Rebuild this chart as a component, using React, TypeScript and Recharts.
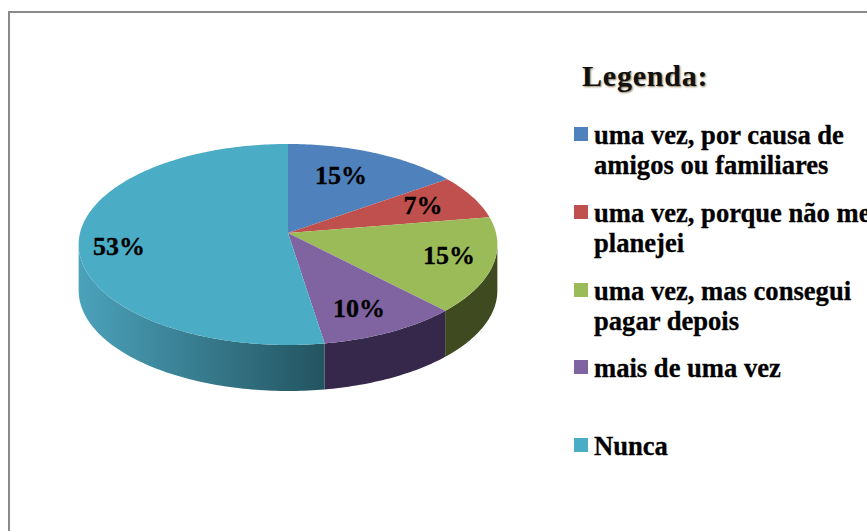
import React from 'react';
import { PieChart, Pie, Cell, Legend } from 'recharts';

const categories = [
  'uma vez, por causa de\namigos ou familiares',
  'uma vez, porque não me\nplanejei',
  'uma vez, mas consegui\npagar depois',
  'mais de uma vez',
  'Nunca',
];
const shares = [15.2, 7.2, 15.4, 9.7, 52.5];
const topColors = ['#4f81bd', '#c0504d', '#9bbb59', '#8064a2', '#4bacc6'];
const wallStart = ['#2f4d72', '#73302e', '#3f4a20', '#35284a', '#4ba2bb'];
const wallEnd = ['#2f4d72', '#73302e', '#3f4a20', '#35284a', '#235460'];

const rows = categories.map((name, i) => ({ name, value: shares[i] }));

const CX = 288;
const CY = 233;
const R = 208;
const RY = 99.2;
const TILT = 0.114;
const DEPTH = 46;
const LABEL_OFFSETS = [
  [53, -58],
  [135, -28],
  [161, 22],
  [71, 75],
  [-169, 13],
];

const project = (angle: number, f = 1): [number, number] => {
  const phi = ((90 - angle) * Math.PI) / 180;
  const u = Math.sin(phi) * f;
  const v = Math.cos(phi) * f;
  const d = 1 + TILT * v;
  return [CX + (R * u) / d, CY - (RY * v) / d];
};

const rim = (a0: number, a1: number): [number, number][] => {
  const n = Math.max(2, Math.ceil(Math.abs(a1 - a0)));
  const out: [number, number][] = [];
  for (let i = 0; i <= n; i++) out.push(project(a0 + ((a1 - a0) * i) / n));
  return out;
};

const toPath = (pts: [number, number][]) =>
  pts.map((p, i) => `${i ? 'L' : 'M'}${p[0].toFixed(2)} ${p[1].toFixed(2)}`).join(' ') + ' Z';

const SliceShape = (props: any) => {
  const { startAngle, endAngle, index, fill } = props;
  const hi = Math.max(startAngle, endAngle);
  const lo = Math.min(startAngle, endAngle);
  const top = [[CX, CY] as [number, number], ...rim(hi, lo)];
  const wallHi = Math.min(hi, -6.5);
  const wallLo = Math.max(lo, -173.5);
  let wall: React.ReactNode = null;
  if (wallHi > wallLo) {
    const edge = rim(wallHi, wallLo);
    const pts = [...edge, ...[...edge].reverse().map((p) => [p[0], p[1] + DEPTH] as [number, number])];
    const xs = edge.map((p) => p[0]);
    const gid = `wall-${index}`;
    wall = (
      <>
        <defs>
          <linearGradient id={gid} gradientUnits="userSpaceOnUse" x1={Math.min(...xs)} x2={Math.max(...xs)} y1={0} y2={0}>
            <stop offset="0%" stopColor={wallStart[index]} />
            <stop offset="100%" stopColor={wallEnd[index]} />
          </linearGradient>
        </defs>
        <path d={toPath(pts)} fill={`url(#${gid})`} />
      </>
    );
  }
  return (
    <g>
      {wall}
      <path d={toPath(top)} fill={fill} />
    </g>
  );
};

const renderLabel = (props: any) => {
  const { index, value } = props;
  const [dx, dy] = LABEL_OFFSETS[index];
  return (
    <text
      key={index}
      x={CX + dx}
      y={CY + dy}
      textAnchor="middle"
      dominantBaseline="central"
      fontFamily="'Liberation Serif', serif"
      fontWeight="bold"
      fontSize={26}
      fill="#000"
      stroke="#000"
      strokeWidth={0.3}
    >
      {Math.round(value)}%
    </text>
  );
};

const LegendContent = (props: any) => {
  const payload = props.payload || [];
  return (
    <div
      style={{
        fontFamily: "'Liberation Serif', serif",
        fontWeight: 'bold',
        fontSize: 26.6,
        lineHeight: '30px',
        color: '#000',
        WebkitTextStroke: '0.3px #000',
      }}
    >
      {payload.map((entry: any, i: number) => (
        <div key={i} style={{ position: 'relative', height: 77.8, paddingLeft: 20, whiteSpace: 'pre' }}>
          <span style={{ position: 'absolute', left: 0, top: 7, width: 14, height: 14, background: entry.color }} />
          {entry.value}
        </div>
      ))}
    </div>
  );
};

export default function App() {
  return (
    <div style={{ position: 'absolute', left: 0, top: 0, width: 867, height: 531, overflow: 'hidden', background: '#fff' }}>
      <div style={{ position: 'absolute', left: 8, top: 11, width: 900, height: 600, border: '2px solid #8a8a8a', boxSizing: 'border-box' }} />
      <div
        style={{
          position: 'absolute',
          left: 582,
          top: 58,
          fontFamily: "'Liberation Serif', serif",
          fontWeight: 'bold',
          fontSize: 30,
          letterSpacing: 0.8,
          lineHeight: '36px',
          color: '#111',
          textShadow: '1px 1px 2px #8a7a55',
        }}
      >
        Legenda:
      </div>
      <div style={{ position: 'absolute', left: 0, top: 0 }}>
        <PieChart width={867} height={531} margin={{ top: 0, right: 0, bottom: 0, left: 0 }}>
          <Pie
            data={rows}
            dataKey="value"
            nameKey="name"
            cx={CX}
            cy={CY}
            outerRadius={R}
            startAngle={90}
            endAngle={-270}
            stroke="none"
            isAnimationActive={false}
            labelLine={false}
            label={renderLabel}
            shape={SliceShape}
          >
            {rows.map((_, i) => (
              <Cell key={i} fill={topColors[i]} />
            ))}
          </Pie>
          <Legend
            layout="vertical"
            content={LegendContent}
            itemSorter={null}
            wrapperStyle={{ position: 'absolute', left: 574, top: 120, width: 293, height: 400, overflow: 'hidden' }}
          />
        </PieChart>
      </div>
    </div>
  );
}
